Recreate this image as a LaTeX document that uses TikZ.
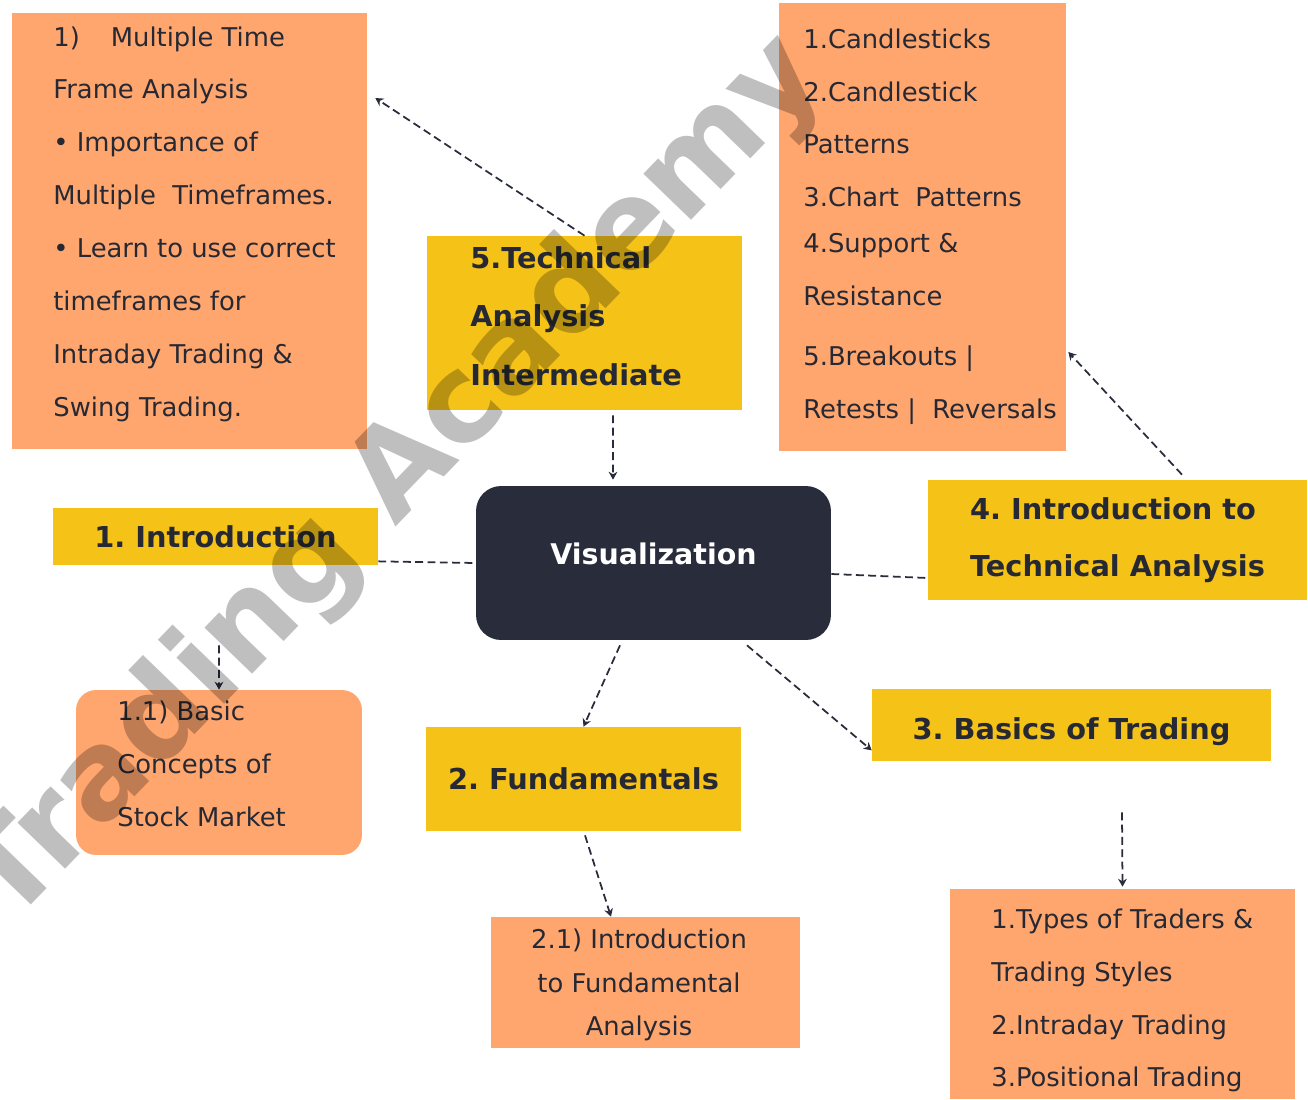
\documentclass[tikz,border=0pt]{standalone}
\usepackage{fontspec}
\setmainfont{DejaVu Sans}
\usetikzlibrary{positioning, arrows.meta}

\definecolor{leaforange}{RGB}{255,166,110}
\definecolor{topicyellow}{RGB}{245,194,24}
\definecolor{hubdark}{RGB}{40,44,59}
\definecolor{inkdark}{RGB}{38,41,52}

\begin{document}
\frenchspacing
\begin{tikzpicture}[
            x = 0.02cm, y = -0.02cm,
            leafbox/.style = {fill=leaforange, inner sep=0pt, text=inkdark, align=left,
                              font=\fontsize{14.7}{30.1}\selectfont},
            leafnotes/.style = {inner sep=0pt, text=inkdark, align=left, anchor=west,
                                font=\fontsize{14.7}{30.1}\selectfont},
            topicbox/.style = {fill=topicyellow, inner sep=0pt, text=inkdark, align=left,
                               font=\bfseries\fontsize{16.4}{33.3}\selectfont},
            hubbox/.style = {fill=hubdark, rounded corners=0.5cm, inner sep=0pt, text=white,
                             font=\bfseries\fontsize{16.2}{19}\selectfont},
            >=Stealth,  % small tips on the dashed links
            link/.style = {draw=hubdark, line width=1pt, dash pattern=on 4.5pt off 2.5pt,
                           -{Stealth[length=4.5pt, width=5pt]}},
            tie/.style = {draw=hubdark, line width=1pt, dash pattern=on 4.5pt off 2.5pt},
            watermark/.style = {text=black, opacity=0.25, rotate=46,
                                font=\bfseries\fontsize{69}{74}\selectfont},
            ]
            \useasboundingbox (0,0) rectangle (1308,1099);

            % centre of the map
            \node[hubbox, minimum width=7.1cm, minimum height=3.08cm, text depth=0.36cm]
                (vis) at (653.5,563) {Visualization};

            % main topics
            \node[topicbox, minimum width=6.5cm, minimum height=1.14cm] (intro) at (215.5,536.5) {1. Introduction};
            \node[topicbox, minimum width=6.3cm, minimum height=2.08cm] (fund) at (583.5,779) {2. Fundamentals};
            \node[topicbox, minimum width=7.98cm, minimum height=1.44cm, text height=0.72cm]
                (basics) at (1071.5,725) {3. Basics of Trading};
            \node[topicbox, minimum width=7.58cm, minimum height=2.4cm,
                  font=\bfseries\fontsize{16.4}{32.6}\selectfont] (ti) at (1117.5,540)
                {4. Introduction to\\ Technical Analysis};
            \node[topicbox, minimum width=6.3cm, minimum height=3.48cm] (tai) at (584.5,323) {};
            \node[leafnotes, font=\bfseries\fontsize{16.4}{33.3}\selectfont] (tainotes) at (470,316)
                {5.Technical\\ Analysis\\ Intermediate};

            % details
            \node[leafbox, minimum width=5.72cm, minimum height=3.3cm, rounded corners=0.4cm]
                (bcsm) at (219,772.5) {};
            \node[leafnotes] (bcsmnotes) at (117,763.5) {1.1) Basic\\ Concepts of\\ Stock Market};
            \node[leafbox, minimum width=6.18cm, minimum height=2.62cm] (ifa) at (645.5,982.5) {};
            \node[leafnotes, anchor=center, align=center, font=\fontsize{14.7}{24.6}\selectfont]
                (ifanotes) at (639,985) {2.1) Introduction\\ to Fundamental\\ Analysis};
            \node[leafbox, minimum width=6.9cm, minimum height=4.2cm] (types) at (1122.5,994) {};
            \node[leafnotes] (typesnotes) at (991,1000.5)
                {1.Types of Traders \&\\ Trading Styles\\ 2.Intraday Trading\\ 3.Positional Trading};
            \node[leafbox, minimum width=5.74cm, minimum height=8.96cm] (cand) at (922.5,227) {};
            \node[leafnotes] (candnotes) at (803,226.5)
                {1.Candlesticks\\ 2.Candlestick\\ Patterns\\ 3.Chart\ \ Patterns\\[-0.14cm]
                 4.Support \&\\ Resistance\\[0.14cm] 5.Breakouts |\\ Retests |\ \ Reversals};
            \node[leafbox, minimum width=7.1cm, minimum height=8.72cm] (mtf) at (189.5,231) {};
            \node[leafnotes] (mtfnotes) at (53,224)
                {1)\hspace{0.62cm}Multiple Time\\ Frame Analysis\\ • Importance of\\
                 Multiple\ \ Timeframes.\\ • Learn to use correct\\ timeframes for\\
                 Intraday Trading \&\\ Swing Trading.};

            \draw[tie] ([shift={(0,-4)}]intro.south east) -- (vis.west);
            \draw[tie] ([shift={(0,11)}]vis.east) -- ([shift={(0,38)}]ti.west);
            \draw[link] ([shift={(28.5,5)}]tai.south) -- ([shift={(-40.5,-6)}]vis.north);
            \draw[link] (tai.north) -- ([shift={(8,-133)}]mtf.east);
            \draw[link] ([shift={(3.5,80)}]intro.south) -- (bcsm.north);
            \draw[link] ([shift={(-33.5,5)}]vis.south) -- (fund.north);
            \draw[link] ([shift={(93.5,5)}]vis.south) -- ([shift={(0,-11)}]basics.south west);
            \draw[link] ([shift={(1.5,4)}]fund.south) -- ([shift={(-34.5,0)}]ifa.north);
            \draw[link] ([shift={(50.5,51)}]basics.south) -- ([shift={(0,-2)}]types.north);
            \draw[link] ([shift={(64.5,-5)}]ti.north) -- ([shift={(2,125)}]cand.east);

            \node[watermark] (wm) at (395,480) {Trading Academy};
        \end{tikzpicture}
\end{document}
